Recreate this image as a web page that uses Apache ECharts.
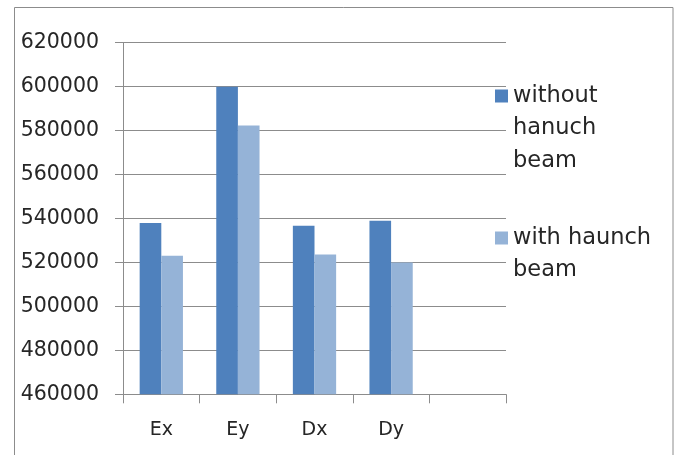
<!DOCTYPE html>
<html>
<head>
<meta charset="utf-8">
<script src="https://cdn.jsdelivr.net/npm/echarts@6/dist/echarts.min.js"></script>
<style>
html,body{margin:0;padding:0;background:#fff;}
#chart{width:678px;height:455px;}
</style>
</head>
<body>
<div id="chart"></div>
<script>
var categories = ['Ex', 'Ey', 'Dx', 'Dy', ''];
var withoutHaunch = [538000, 600000, 536700, 539000];
var withHaunch = [523000, 582300, 523600, 520000];
var seriesNames = ['without hanuch beam', 'with haunch beam'];
var legendLines = [['without', 'hanuch', 'beam'], ['with haunch', 'beam']];
var yTicks = [460000, 620000, 20000];

var FONT = 'DejaVu Sans';
var TXT = '#262626';
var GRID = '#8c8c8c';

var chart = echarts.init(document.getElementById('chart'), null, {renderer: 'canvas'});

function legendFor(i, top) {
  var lh = 32.5;
  var lines = legendLines[i];
  // pad with blank lines above so the first line sits level with the icon
  var pad = [];
  for (var k = 1; k < lines.length; k++) pad.push(' ');
  var txt = pad.concat(lines).join('\n');
  return {
    data: [seriesNames[i]],
    left: 495,
    top: top,
    orient: 'vertical',
    padding: 0,
    itemWidth: 13,
    itemHeight: 13,
    icon: 'rect',
    selectedMode: false,
    formatter: function () { return txt; },
    textStyle: {
      fontFamily: FONT,
      fontSize: 22.5,
      color: TXT,
      lineHeight: lh
    }
  };
}

chart.setOption({
  animation: false,
  backgroundColor: '#ffffff',
  color: ['#4F81BD', '#95B3D7'],
  graphic: [{
    type: 'rect',
    shape: {x: 14.5, y: 7.5, width: 658.5, height: 460},
    style: {fill: 'none', stroke: '#8c8c8c', lineWidth: 1},
    silent: true
  }],
  grid: {left: 123, right: 172, top: 42.7, bottom: 60.7, containLabel: false},
  legend: [
    legendFor(0, 14.75),
    legendFor(1, 189.25)
  ],
  xAxis: {
    type: 'category',
    data: categories,
    boundaryGap: true,
    axisLine: {show: true, lineStyle: {color: GRID, width: 1}},
    axisTick: {show: true, length: 9, lineStyle: {color: GRID}},
    axisLabel: {fontFamily: FONT, fontSize: 19, color: TXT, margin: 26},
    splitLine: {show: false}
  },
  yAxis: {
    type: 'value',
    min: yTicks[0],
    max: yTicks[1],
    interval: yTicks[2],
    axisLine: {show: true, lineStyle: {color: GRID, width: 1}},
    axisTick: {show: true, length: 8, lineStyle: {color: GRID}},
    axisLabel: {fontFamily: FONT, fontSize: 20.5, color: TXT, margin: 24,
      formatter: function (v) { return String(v); }},
    splitLine: {show: true, lineStyle: {color: GRID, width: 1}}
  },
  series: [
    {name: seriesNames[0], type: 'bar', data: withoutHaunch, barGap: '0%', barCategoryGap: '43.5%'},
    {name: seriesNames[1], type: 'bar', data: withHaunch, barGap: '0%', barCategoryGap: '43.5%'}
  ]
});
</script>
</body>
</html>
